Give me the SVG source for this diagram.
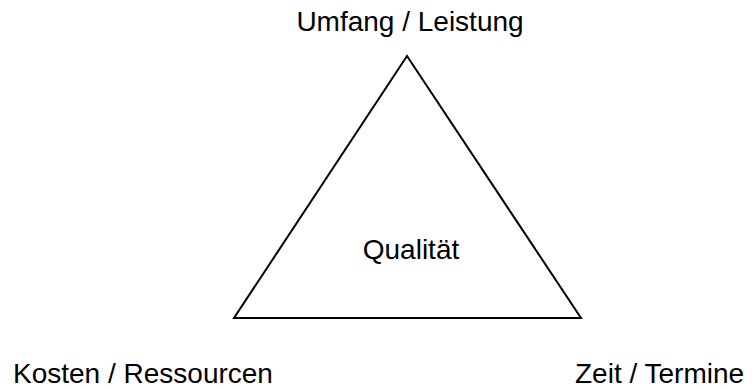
<svg xmlns="http://www.w3.org/2000/svg" width="756" height="389" viewBox="0 0 756 389">
<style>
text{font-family:"Liberation Sans",Arial,sans-serif;font-size:28px;fill:#000}
.tri{fill:none;stroke:#000;stroke-width:2}
</style>
<rect width="756" height="389" fill="#fff"/>
<g id="triangle"><polygon class="tri" points="407,56 234,318 581,318"/></g>
<g id="top"><text x="410" y="31" text-anchor="middle">Umfang / Leistung</text></g>
<g id="center"><text x="411" y="259" text-anchor="middle">Qualität</text></g>
<g id="left"><text x="13" y="383">Kosten / Ressourcen</text></g>
<g id="right"><text x="575" y="383">Zeit / Termine</text></g>
<g id="connectors"></g>
</svg>
